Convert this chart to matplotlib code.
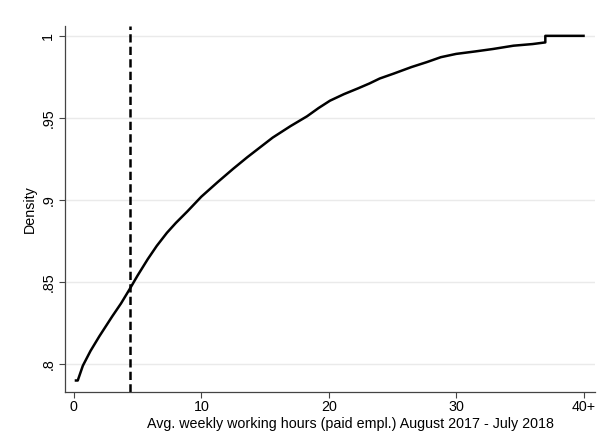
import numpy as np
import matplotlib.pyplot as plt

plt.rcParams['font.family'] = ['Liberation Sans', 'DejaVu Sans']

# valores
horas = [0.16, 0.3, 0.7, 1.3, 2.0, 2.5, 3.0, 3.7, 4.4, 5.0, 5.8, 6.5, 7.3, 8.0,
         8.9, 10.0, 11.3, 12.5, 13.6, 14.6, 15.6, 17.0, 18.3, 19.2, 20.1, 21.2,
         22.3, 23.2, 24.0, 25.1, 26.5, 27.7, 28.8, 30.0, 31.5, 32.9, 34.5, 36.0,
         37.0, 37.0, 40.0]
densidad = [0.790, 0.790, 0.799, 0.808, 0.817, 0.823, 0.829, 0.837, 0.846, 0.854,
            0.864, 0.872, 0.880, 0.886, 0.893, 0.902, 0.911, 0.919, 0.926, 0.932,
            0.938, 0.945, 0.951, 0.956, 0.9605, 0.9645, 0.968, 0.971, 0.974, 0.977,
            0.981, 0.984, 0.987, 0.989, 0.9905, 0.992, 0.994, 0.995,
            0.996, 1.000, 1.000]
corte = 4.4

yticks = [0.8, 0.85, 0.9, 0.95, 1.0]
yticklabels = ['.8', '.85', '.9', '.95', '1']
xticks = [0, 10, 20, 30, 40]
xticklabels = ['0', '10', '20', '30', '40+']

fig = plt.figure(figsize=(5.98, 4.37), dpi=100)
ax = fig.add_axes([0.1087, 0.103, 0.8863, 0.8375])

for y in yticks:
    ax.axhline(y, color='#eaeaea', linewidth=1, zorder=0)

ax.plot(horas, densidad, color='black', linewidth=1.8)
ax.axvline(corte, color='black', linewidth=1.8, linestyle=(0, (3.3, 1.7)))

ax.set_xlim(-0.7, 40.9)
ax.set_ylim(0.783, 1.006)
ax.set_xticks(xticks)
ax.set_xticklabels(xticklabels, fontsize=10.3)
ax.set_yticks(yticks)
ax.set_yticklabels(yticklabels, fontsize=10.3, rotation=90, va='center')
ax.tick_params(direction='out', length=4, width=0.8, color='#444444', pad=3)
ax.tick_params(axis='x', pad=2)

for s in ['top', 'right']:
    ax.spines[s].set_visible(False)
for s in ['left', 'bottom']:
    ax.spines[s].set_color('#444444')
    ax.spines[s].set_linewidth(0.9)

ax.set_xlabel('Avg. weekly working hours (paid empl.) August 2017 - July 2018',
              fontsize=10.3)
ax.xaxis.set_label_coords(0.538, -0.068)
ax.set_ylabel('Density', fontsize=10.3, labelpad=3)

plt.savefig('out.png', dpi=100)
